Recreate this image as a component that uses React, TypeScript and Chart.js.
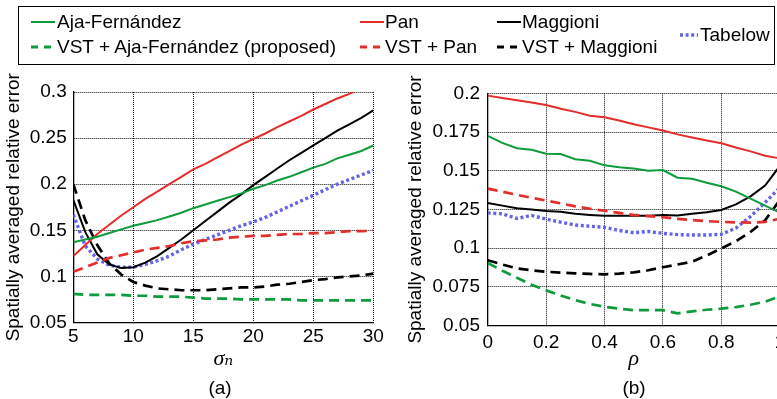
import React, { useEffect, useRef } from "react";
import { Chart, registerables } from "chart.js";

Chart.register(...registerables);

// ---------- Panel (a): error vs sigma_n ----------
const sigmaN = [5, 6, 7, 8, 9, 10, 11, 12, 13, 14, 15, 16, 17, 18, 19, 20, 21, 22, 23, 24, 25, 26, 27, 28, 29, 30];
const ajaA = [0.137, 0.140, 0.143, 0.147, 0.151, 0.155, 0.158, 0.161, 0.165, 0.169, 0.174, 0.178, 0.182, 0.186, 0.190, 0.195, 0.199, 0.204, 0.208, 0.213, 0.218, 0.222, 0.228, 0.232, 0.236, 0.242];
const vstAjaA = [0.081, 0.080, 0.080, 0.080, 0.080, 0.079, 0.079, 0.078, 0.078, 0.078, 0.077, 0.076, 0.076, 0.076, 0.075, 0.075, 0.075, 0.075, 0.075, 0.074, 0.074, 0.074, 0.074, 0.074, 0.074, 0.074];
const panA = [0.122, 0.134, 0.146, 0.156, 0.166, 0.175, 0.184, 0.192, 0.200, 0.208, 0.216, 0.222, 0.229, 0.236, 0.243, 0.249, 0.255, 0.262, 0.268, 0.274, 0.281, 0.287, 0.293, 0.298, 0.304, 0.310];
const vstPanA = [0.105, 0.110, 0.115, 0.120, 0.123, 0.126, 0.129, 0.131, 0.133, 0.136, 0.138, 0.139, 0.140, 0.142, 0.143, 0.144, 0.144, 0.145, 0.146, 0.146, 0.147, 0.147, 0.148, 0.149, 0.149, 0.150];
const maggioniA = [0.183, 0.148, 0.124, 0.113, 0.109, 0.110, 0.115, 0.122, 0.131, 0.140, 0.150, 0.160, 0.170, 0.180, 0.189, 0.199, 0.208, 0.217, 0.226, 0.234, 0.242, 0.250, 0.258, 0.265, 0.272, 0.280];
const vstMaggioniA = [0.200, 0.161, 0.134, 0.114, 0.102, 0.094, 0.090, 0.087, 0.086, 0.085, 0.085, 0.085, 0.086, 0.087, 0.088, 0.088, 0.089, 0.091, 0.092, 0.094, 0.096, 0.097, 0.099, 0.100, 0.101, 0.103];
const tabelowA = [0.167, 0.133, 0.119, 0.112, 0.110, 0.110, 0.113, 0.117, 0.122, 0.129, 0.135, 0.140, 0.145, 0.150, 0.155, 0.159, 0.164, 0.170, 0.176, 0.182, 0.188, 0.194, 0.200, 0.205, 0.210, 0.215];
const xTicksA = [5, 10, 15, 20, 25, 30];
const yTicksA = [0.05, 0.1, 0.15, 0.2, 0.25, 0.3];

// ---------- Panel (b): error vs rho ----------
const rho = [0, 0.05, 0.1, 0.15, 0.2, 0.25, 0.3, 0.35, 0.4, 0.45, 0.5, 0.55, 0.6, 0.65, 0.7, 0.75, 0.8, 0.85, 0.9, 0.95, 1];
const ajaB = [0.1725, 0.168, 0.1645, 0.1635, 0.161, 0.1608, 0.1575, 0.1565, 0.1535, 0.1522, 0.1515, 0.150, 0.1505, 0.1455, 0.1448, 0.1423, 0.140, 0.1365, 0.132, 0.1275, 0.123];
const vstAjaB = [0.0905, 0.0855, 0.081, 0.0765, 0.0728, 0.0695, 0.0665, 0.064, 0.0622, 0.061, 0.060, 0.060, 0.060, 0.058, 0.0592, 0.0603, 0.061, 0.062, 0.0635, 0.0655, 0.069];
const panB = [0.1985, 0.197, 0.1955, 0.194, 0.1925, 0.190, 0.188, 0.1855, 0.1845, 0.1825, 0.180, 0.178, 0.176, 0.1735, 0.1715, 0.1695, 0.1677, 0.165, 0.1625, 0.1597, 0.158];
const vstPanB = [0.1385, 0.1365, 0.1345, 0.1325, 0.1308, 0.129, 0.127, 0.1255, 0.1242, 0.1228, 0.1215, 0.1207, 0.120, 0.119, 0.1182, 0.1175, 0.117, 0.1167, 0.1165, 0.117, 0.119];
const maggioniB = [0.1292, 0.1275, 0.1258, 0.125, 0.124, 0.1235, 0.1222, 0.1215, 0.121, 0.121, 0.121, 0.121, 0.1215, 0.1212, 0.1222, 0.1232, 0.1247, 0.1283, 0.1335, 0.1405, 0.153];
const vstMaggioniB = [0.0922, 0.0895, 0.087, 0.0858, 0.0848, 0.0843, 0.0838, 0.0834, 0.0831, 0.0836, 0.0844, 0.0858, 0.0877, 0.0895, 0.0913, 0.0953, 0.0999, 0.1045, 0.1105, 0.118, 0.131];
const tabelowB = [0.1228, 0.1222, 0.1192, 0.1212, 0.1188, 0.1168, 0.115, 0.1142, 0.1135, 0.1115, 0.110, 0.1108, 0.1096, 0.1088, 0.1085, 0.1085, 0.109, 0.113, 0.1205, 0.1295, 0.139];
const xTicksB = [0, 0.2, 0.4, 0.6, 0.8, 1];
const yTicksB = [0.05, 0.075, 0.1, 0.125, 0.15, 0.175, 0.2];

const seriesNames = [
  "Aja-Fernández",
  "VST + Aja-Fernández (proposed)",
  "Pan",
  "VST + Pan",
  "Maggioni",
  "VST + Maggioni",
  "Tabelow",
];
const yTitle = "Spatially averaged relative error";

// ---------- styles ----------
const GREEN = "#0e9b3c";
const RED = "#e62b2b";
const BLACK = "#000000";
const BLUE = "#6464e4";
const STYLES = [
  { color: GREEN, dash: [] as number[], width: 2 },
  { color: GREEN, dash: [10, 6], width: 2.7 },
  { color: RED, dash: [] as number[], width: 2 },
  { color: RED, dash: [10, 6], width: 2.7 },
  { color: BLACK, dash: [] as number[], width: 2 },
  { color: BLACK, dash: [10, 6], width: 2.7 },
  { color: BLUE, dash: [3, 2.6], width: 3.4 },
];
const FONT = '"Liberation Sans", Arial, Helvetica, sans-serif';
const SERIF = '"Liberation Serif", "DejaVu Serif", serif';
const GRID = "#111111";
const FS = 19;

const fmt = (v: any) => String(parseFloat(Number(v).toFixed(4)));

type Panel = {
  xs: number[];
  series: number[][];
  xTicks: number[];
  yTicks: number[];
  xTitle: string;
  label: string;
  padTop: number;
  yAxisW: number;
  rightW: number;
  xAxisH: number;
  xTickPad: number;
  yTickPad: number;
  yTitlePad: number;
};

function buildConfig(p: Panel): any {
  const tickFont = { family: FONT, size: FS, lineHeight: 1.2 };
  return {
    type: "line",
    data: {
      datasets: p.series.map((vals, i) => ({
        label: seriesNames[i],
        data: p.xs.map((x, j) => ({ x, y: vals[j] })),
        borderColor: STYLES[i].color,
        borderDash: STYLES[i].dash,
        borderWidth: STYLES[i].width,
        borderCapStyle: "butt",
        pointRadius: 0,
        tension: 0,
        fill: false,
      })),
    },
    options: {
      responsive: false,
      animation: false,
      events: [],
      layout: { padding: { top: p.padTop, left: 0, right: 0, bottom: 0 } },
      plugins: {
        legend: { display: false },
        tooltip: { enabled: false },
        title: {
          display: true,
          text: p.label,
          position: "bottom",
          padding: 0,
          color: "#000",
          font: { family: FONT, size: FS, weight: "normal", lineHeight: 1.1 },
        },
      },
      scales: {
        x: {
          type: "linear",
          min: p.xTicks[0],
          max: p.xTicks[p.xTicks.length - 1],
          afterBuildTicks: (s: any) => {
            s.ticks = p.xTicks.map((v) => ({ value: v }));
          },
          afterFit: (s: any) => {
            s.height = p.xAxisH;
          },
          grid: { color: GRID, lineWidth: 1, drawTicks: false },
          border: { color: "#000", width: 1.3, dash: [1, 1] },
          ticks: {
            padding: p.xTickPad,
            color: "#000",
            font: tickFont,
            maxRotation: 0,
            autoSkip: false,
            callback: fmt,
          },
          title: {
            display: true,
            text: p.xTitle,
            color: "#000",
            font: { family: SERIF, size: 22, style: "italic", lineHeight: 1.2 },
            padding: { top: 0, bottom: 5.3 },
          },
        },
        y: {
          type: "linear",
          position: "left",
          min: p.yTicks[0],
          max: p.yTicks[p.yTicks.length - 1],
          afterBuildTicks: (s: any) => {
            s.ticks = p.yTicks.map((v) => ({ value: v }));
          },
          afterFit: (s: any) => {
            s.width = p.yAxisW;
          },
          grid: { color: GRID, lineWidth: 1, drawTicks: false },
          border: { color: "#000", width: 1.3, dash: [1, 1] },
          ticks: { padding: p.yTickPad, color: "#000", font: tickFont, autoSkip: false, callback: fmt },
          title: {
            display: true,
            text: yTitle,
            color: "#000",
            font: { family: FONT, size: FS, lineHeight: 1.2 },
            padding: { top: p.yTitlePad, bottom: 0 },
          },
        },
        y2: {
          type: "linear",
          position: "right",
          display: true,
          grid: { display: false, drawTicks: false },
          border: { display: false },
          ticks: { display: false },
          afterFit: (s: any) => {
            s.width = p.rightW;
          },
        },
      },
    },
  };
}

const panelA: Panel = {
  xs: sigmaN,
  series: [ajaA, vstAjaA, panA, vstPanA, maggioniA, vstMaggioniA, tabelowA],
  xTicks: xTicksA,
  yTicks: yTicksA,
  xTitle: "σₙ",
  label: "(a)",
  padTop: 28,
  yAxisW: 73.3,
  rightW: 66.7,
  xAxisH: 55.6,
  xTickPad: 2.9,
  yTickPad: 6.6,
  yTitlePad: 2.2,
};

const panelB: Panel = {
  xs: rho,
  series: [ajaB, vstAjaB, panB, vstPanB, maggioniB, vstMaggioniB, tabelowB],
  xTicks: xTicksB,
  yTicks: yTicksB,
  xTitle: "ρ",
  label: "(b)",
  padTop: 29.3,
  yAxisW: 95.7,
  rightW: 96.3,
  xAxisH: 52.4,
  xTickPad: 5.9,
  yTickPad: 7.7,
  yTitlePad: 12.7,
};

function ChartCanvas({ panel, left, width }: { panel: Panel; left: number; width: number }) {
  const ref = useRef<HTMLCanvasElement | null>(null);
  useEffect(() => {
    if (!ref.current) return;
    const chart = new Chart(ref.current, buildConfig(panel));
    return () => chart.destroy();
  }, [panel]);
  return (
    <canvas
      ref={ref}
      width={width}
      height={335}
      style={{ position: "absolute", left, top: 64, width, height: 335 }}
    />
  );
}

function Sample({ idx, len }: { idx: number; len: number }) {
  const s = STYLES[idx];
  const dash = idx === 6 ? "3 2.6" : s.dash.length ? "7 6" : undefined;
  return (
    <svg width={len} height={8} style={{ display: "block" }}>
      <line x1={0} y1={4} x2={len} y2={4} stroke={s.color} strokeWidth={idx === 6 ? 3.4 : s.dash.length ? 2.8 : 2} strokeDasharray={dash} />
    </svg>
  );
}

const LEGEND_ITEMS = [
  { idx: 0, sx: 31, tx: 57, y: 22 },
  { idx: 1, sx: 31, tx: 57, y: 47 },
  { idx: 2, sx: 360, tx: 385, y: 22 },
  { idx: 3, sx: 360, tx: 385, y: 47 },
  { idx: 4, sx: 497, tx: 522, y: 22 },
  { idx: 5, sx: 497, tx: 522, y: 47 },
  { idx: 6, sx: 680, tx: 700, y: 34.5 },
];

function Legend() {
  return (
    <div>
      <div
        style={{
          position: "absolute",
          left: 18,
          top: 6,
          width: 757,
          height: 59,
          border: "1px solid #000",
          boxSizing: "border-box",
        }}
      />
      {LEGEND_ITEMS.map((it) => (
        <React.Fragment key={it.idx}>
          <div style={{ position: "absolute", left: it.sx, top: it.y - 4 }}>
            <Sample idx={it.idx} len={it.idx === 6 ? 18 : 24} />
          </div>
          <div
            style={{
              position: "absolute",
              left: it.tx,
              top: it.y - 11,
              height: 22,
              lineHeight: "22px",
              fontFamily: FONT,
              fontSize: FS,
              whiteSpace: "nowrap",
              color: "#000",
            }}
          >
            {seriesNames[it.idx]}
          </div>
        </React.Fragment>
      ))}
    </div>
  );
}

export default function App() {
  return (
    <div
      style={{
        position: "fixed",
        left: 0,
        top: 0,
        width: 777,
        height: 399,
        overflow: "hidden",
        background: "#fff",
      }}
    >
      <ChartCanvas panel={panelA} left={0} width={440} />
      <ChartCanvas panel={panelB} left={392} width={484} />
      <Legend />
    </div>
  );
}
